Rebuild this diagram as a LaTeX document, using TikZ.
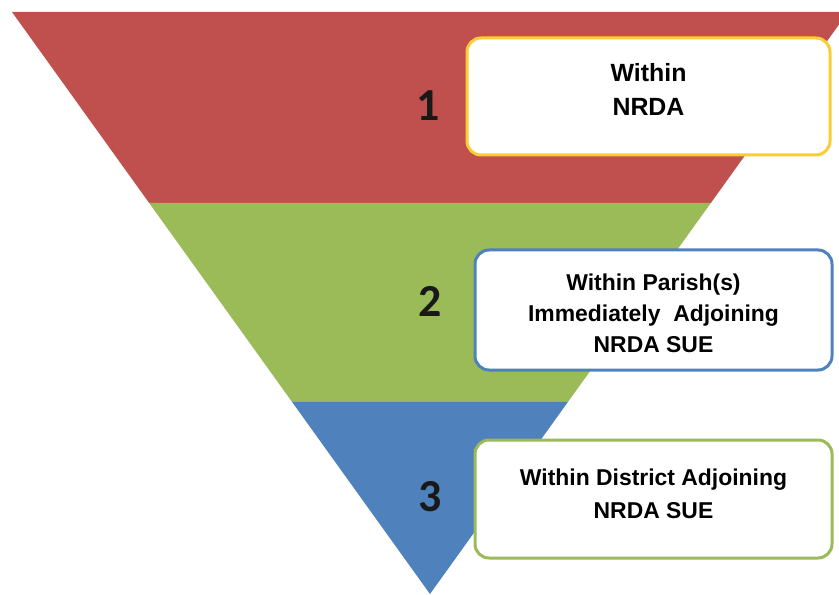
\documentclass[tikz,border=0pt]{standalone}
\usepackage{fontspec}
\setmainfont{Liberation Sans}
\newfontfamily\numfont{Carlito}
\usepackage{xcolor}
\usepackage{tikz}
\usetikzlibrary{calc}
\usetikzlibrary{positioning}

\definecolor{tierred}{RGB}{192,80,77}
\definecolor{tiergreen}{RGB}{155,187,89}
\definecolor{tierblue}{RGB}{79,129,189}
\definecolor{tieryellow}{RGB}{250,205,55}

\tikzset{
  tierbox/.style={draw,fill=white,line width=3bp,rounded corners=14bp,
    minimum width=360bp,minimum height=116bp,align=center,
    font=\bfseries\fontsize{23}{31}\selectfont},
  tiernum/.style={font=\numfont\bfseries\fontsize{46}{46}\selectfont,text=black!90}
}

\begin{document}
\begin{tikzpicture}[x=1bp,y=-1bp]
		\useasboundingbox (0,0) rectangle (839,595);
		\clip (0,0) rectangle (839,595);
		\coordinate (tl) at (12,12);
		\coordinate (tr) at (848,12);
		\coordinate (apex) at (430,594);
		% the three bands of the funnel
		\fill[tierred] (tl) -- (tr) -- ($(tr)!0.328!(apex)$) -- ($(tl)!0.328!(apex)$) -- cycle;
		\fill[tiergreen] ($(tl)!0.328!(apex)$) -- ($(tr)!0.328!(apex)$) -- ($(tr)!0.670!(apex)$) -- ($(tl)!0.670!(apex)$) -- cycle;
		\fill[tierblue] ($(tl)!0.670!(apex)$) -- ($(tr)!0.670!(apex)$) -- (apex) -- cycle;
		% tier numbers
		\node[tiernum] (num1) at (428,106) {1};
		\node[tiernum] (num2) at (430,301) {2};
		\node[tiernum] (num3) at (430,497) {3};
		% labels
		\node[tierbox,draw=tieryellow,minimum width=363bp,minimum height=117bp,
		  font=\bfseries\fontsize{25}{34}\selectfont] (nrda) at (648.5,96.5) {Within\\NRDA\\[-20bp]};
		\node[tierbox,draw=tierblue,minimum width=357bp,minimum height=120bp] (parish) at (653.5,310) {Within Parish(s)\\Immediately\ \ Adjoining\\NRDA SUE\\[-37bp]};
		\node[tierbox,draw=tiergreen,minimum width=357bp,minimum height=118bp,
		  font=\bfseries\fontsize{23}{33}\selectfont] (district) at (653.5,499) {Within District Adjoining\\NRDA SUE\\[-23bp]};
	\end{tikzpicture}
\end{document}
